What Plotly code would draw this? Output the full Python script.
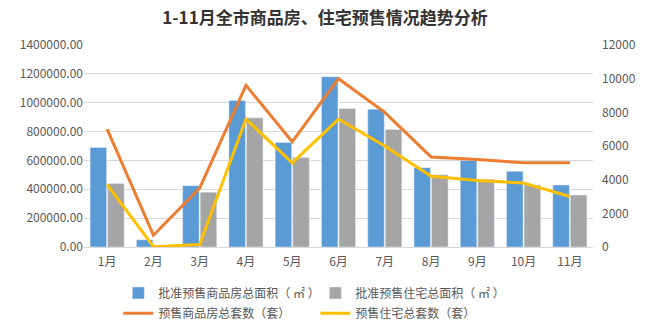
import plotly.graph_objects as go

months = ["1月", "2月", "3月", "4月", "5月", "6月", "7月", "8月", "9月", "10月", "11月"]
area_all = [690000, 50000, 425000, 1015000, 725000, 1180000, 955000, 550000, 600000, 525000, 430000]
area_res = [440000, 5000, 380000, 895000, 620000, 960000, 815000, 500000, 470000, 430000, 360000]
units_all = [7000, 700, 3500, 9600, 6250, 10000, 8000, 5350, 5200, 5000, 5000]
units_res = [3700, 20, 150, 7600, 5000, 7600, 6000, 4200, 3950, 3800, 3000]

FONT = "Noto Sans CJK SC, sans-serif"
GRAY_TXT = "#595959"

fig = go.Figure()
fig.add_trace(go.Bar(x=months, y=area_all, name="批准预售商品房总面积（ ㎡ ）",
                     marker_color="#5B9BD5", legend="legend"))
fig.add_trace(go.Bar(x=months, y=area_res, name="批准预售住宅总面积（ ㎡ ）",
                     marker_color="#A5A5A5", legend="legend"))
fig.add_trace(go.Scatter(x=months, y=units_all, name="预售商品房总套数（套）", mode="lines",
                         line=dict(color="#ED7D31", width=3), yaxis="y2", legend="legend2"))
fig.add_trace(go.Scatter(x=months, y=units_res, name="预售住宅总套数（套）", mode="lines",
                         line=dict(color="#FFC000", width=3), yaxis="y2", legend="legend2"))

legend_common = dict(orientation="h", xanchor="left", yanchor="middle",
                     xref="container", yref="container",
                     font=dict(family=FONT, size=12, color=GRAY_TXT),
                     entrywidth=152, entrywidthmode="pixels",
                     bgcolor="rgba(0,0,0,0)", itemclick=False)

fig.update_layout(
    width=650, height=331,
    margin=dict(l=84, r=57, t=45, b=84, autoexpand=False),
    paper_bgcolor="white", plot_bgcolor="white",
    title=dict(text="<b>1-11月全市商品房、住宅预售情况趋势分析</b>", x=0.5, xanchor="center",
               y=0.945, yanchor="middle", font=dict(family=FONT, size=17, color="#333333")),
    font=dict(family=FONT, size=12, color=GRAY_TXT),
    bargap=0.24, bargroupgap=0.06,
    xaxis=dict(showgrid=False, showline=True, linecolor="#D9D9D9", ticks="",
               ticklabelstandoff=4,
               tickfont=dict(family=FONT, size=12, color=GRAY_TXT)),
    yaxis=dict(range=[0, 1400000], dtick=200000, tickformat=".2f", showgrid=True,
               gridcolor="#D9D9D9", zeroline=False, ticks="",
               tickfont=dict(family=FONT, size=12, color=GRAY_TXT)),
    yaxis2=dict(range=[0, 12000], dtick=2000, tickformat="d", overlaying="y", side="right",
                showgrid=False, zeroline=False, ticks="", ticklabelstandoff=8,
                tickfont=dict(family=FONT, size=12, color=GRAY_TXT)),
    legend=dict(x=0.182, y=0.115, **legend_common),
    legend2=dict(x=0.182, y=0.054, **legend_common),
)

fig.write_html("out.html")
